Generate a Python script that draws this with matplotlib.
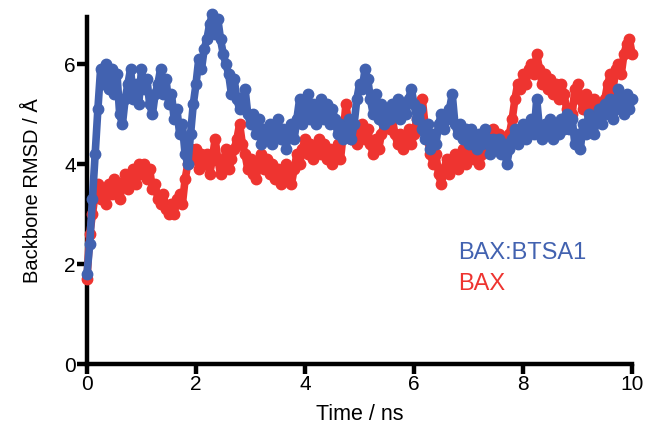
import numpy as np
import matplotlib
matplotlib.use('Agg')
import matplotlib.pyplot as plt

matplotlib.rcParams['font.family'] = ['Liberation Sans', 'DejaVu Sans']

# time axis, 0.05 ns steps
time = np.arange(0, 201) * 0.05

bax_btsa1 = [
    1.8, 2.4, 3.3, 4.2, 5.1, 5.9, 5.6, 6.0, 5.5, 5.9,
    5.4, 5.8, 5.0, 4.8, 5.3, 5.6, 5.9, 5.3, 5.6, 5.2,
    5.9, 5.5, 5.7, 5.2, 5.0, 5.4, 5.6, 5.9, 5.4, 5.7,
    5.2, 5.4, 4.9, 5.1, 4.6, 4.8, 4.2, 4.0, 4.6, 5.2,
    5.6, 6.1, 5.9, 6.3, 6.5, 6.8, 7.0, 6.6, 6.9, 6.5,
    6.2, 6.0, 5.8, 5.4, 5.7, 5.3, 5.1, 5.3, 5.5, 5.0,
    4.8, 5.0, 4.6, 4.9, 4.4, 4.7, 4.5, 4.8, 4.4, 4.6,
    4.9, 4.5, 4.7, 4.3, 4.6, 4.8, 4.5, 4.9, 5.3, 4.8,
    5.1, 5.4, 4.9, 5.2, 4.8, 5.1, 5.3, 4.9, 5.2, 4.8,
    5.1, 4.9, 4.6, 4.8, 4.5, 4.7, 4.9, 4.5, 4.8, 5.3,
    5.6, 5.5, 5.9, 5.7, 5.3, 5.0, 5.4, 4.9, 5.2, 4.8,
    5.1, 4.9, 5.2, 5.0, 5.3, 4.9, 5.2, 5.0, 5.3, 5.5,
    5.2, 4.9, 5.1, 4.7, 4.5, 4.8, 4.3, 4.6, 4.4, 4.8,
    5.0, 4.7, 4.9, 5.1, 5.4, 4.8, 4.6, 4.8, 4.5, 4.7,
    4.4, 4.7, 4.5, 4.3, 4.6, 4.4, 4.7, 4.5, 4.2, 4.5,
    4.3, 4.5, 4.2, 4.4, 4.0, 4.3, 4.5, 4.7, 4.4, 4.6,
    4.8, 4.5, 4.7, 4.9, 4.6, 5.3, 4.7, 4.5, 4.8, 4.6,
    4.9, 4.5, 4.8, 4.6, 4.9, 4.7, 5.0, 4.7, 4.9, 4.4,
    4.6, 4.3, 4.8, 4.6, 5.0, 4.8, 4.6, 4.9, 5.1, 4.8,
    5.2, 5.0, 5.3, 4.9, 5.1, 5.5, 5.2, 5.0, 5.4, 5.1,
    5.3,
]

bax = [
    1.7, 2.6, 3.0, 3.4, 3.6, 3.3, 3.5, 3.2, 3.6, 3.4,
    3.7, 3.5, 3.3, 3.6, 3.8, 3.5, 3.7, 3.9, 3.6, 4.0,
    3.8, 4.0, 3.7, 3.9, 3.5, 3.6, 3.3, 3.2, 3.4, 3.1,
    3.0, 3.2, 3.0, 3.3, 3.4, 3.2, 3.7, 4.0, 4.3, 4.1,
    4.3, 3.9, 4.2, 4.0, 4.2, 3.8, 4.1, 4.5, 4.1, 3.8,
    4.0, 4.3, 3.9, 4.1, 4.3, 4.5, 4.8, 4.4, 4.2, 3.9,
    4.1, 3.8, 3.7, 4.0, 4.2, 3.9, 4.1, 3.8, 4.0, 3.7,
    3.9, 3.6, 3.8, 4.0, 3.7, 3.6, 3.9, 4.2, 4.0, 4.3,
    4.5, 4.2, 4.4, 4.1, 4.3, 4.5, 4.2, 4.4, 4.1, 4.3,
    4.0, 4.2, 4.4, 4.1, 4.6, 5.2, 4.8, 4.5, 4.7, 4.4,
    4.6, 4.8, 4.5, 4.7, 4.4, 4.2, 4.5, 4.3, 4.6, 4.8,
    5.0, 4.7, 4.9, 4.6, 4.4, 4.6, 4.3, 4.5, 4.7, 4.4,
    4.6, 4.9, 5.1, 5.3, 4.8, 4.5, 4.2, 4.0, 4.2, 3.8,
    3.6, 3.9, 4.1, 3.8, 4.0, 4.2, 3.9, 4.1, 4.3, 4.0,
    4.2, 4.4, 4.1, 4.3, 4.0, 4.2, 4.4, 4.6, 4.4, 4.7,
    4.5, 4.6, 4.4, 4.5, 4.3, 4.6, 4.9, 5.3, 5.6, 5.5,
    5.8, 5.6, 5.9, 6.0, 5.8, 6.2, 5.9, 5.6, 5.8, 5.5,
    5.7, 5.4, 5.6, 5.3, 5.6, 5.4, 5.1, 4.8, 5.0, 5.5,
    5.6, 5.3, 5.1, 5.4, 5.2, 5.0, 5.3, 5.1, 5.2, 5.0,
    5.3, 5.6, 5.8, 5.5, 5.9, 6.0, 5.8, 6.2, 6.4, 6.5,
    6.2,
]

blue = '#4262b0'
red = '#ee3430'

fig = plt.figure(figsize=(6.51, 4.29), dpi=100)
ax = fig.add_axes([0.1336, 0.1515, 0.8374, 0.8095])

ax.plot(time, bax, color=red, lw=5.5, marker='o', ms=7.5, mec=red, clip_on=False, zorder=3)
ax.plot(time, bax_btsa1, color=blue, lw=5.5, marker='o', ms=7.5, mec=blue, clip_on=False, zorder=4)

ax.set_xlim(0, 10)
ax.set_ylim(0, 6.95)
ax.set_xticks([0, 2, 4, 6, 8, 10])
ax.set_yticks([0, 2, 4, 6])

for s in ['top', 'right']:
    ax.spines[s].set_visible(False)
for s in ['left', 'bottom']:
    ax.spines[s].set_linewidth(3.2)
ax.tick_params(width=3.2, length=7, labelsize=15, pad=1)

ax.set_xlabel('Time / ns', fontsize=15.5, labelpad=7)
ax.set_ylabel('Backbone RMSD / Å', fontsize=14.5, labelpad=16)

ax.text(0.681, 0.319, 'BAX:BTSA1', color=blue, fontsize=17, transform=ax.transAxes, va='center')
ax.text(0.681, 0.230, 'BAX', color=red, fontsize=17, transform=ax.transAxes, va='center')

fig.savefig('out.png', dpi=100)
